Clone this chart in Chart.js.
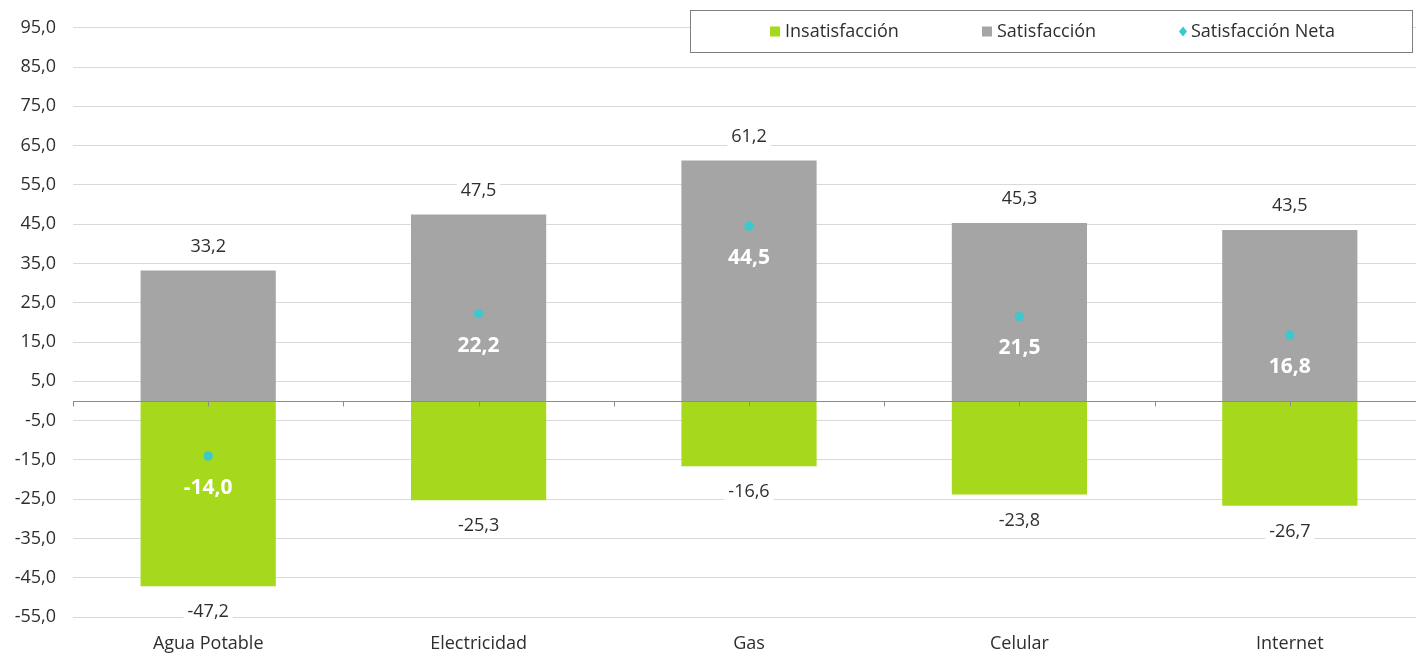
<!DOCTYPE html>
<html lang="es">
<head>
<meta charset="utf-8">
<script src="https://cdn.jsdelivr.net/npm/chart.js@4.4.1/dist/chart.umd.min.js"></script>
<style>
  html, body { margin: 0; padding: 0; background: #fff; overflow: hidden; }
</style>
</head>
<body>
<canvas id="chart" width="1430" height="656"></canvas>
<script>
// datos del gráfico
const categorias = ['Agua Potable', 'Electricidad', 'Gas', 'Celular', 'Internet'];
const insatisfaccion = [-47.2, -25.3, -16.6, -23.8, -26.7];
const satisfaccion = [33.2, 47.5, 61.2, 45.3, 43.5];
const satisfaccionNeta = [-14.0, 22.2, 44.5, 21.5, 16.8];
const ejeMin = -55;
const ejeMax = 95;
const ejePaso = 10;

const VERDE = '#A6D81C';
const GRIS = '#A5A5A5';
const CIAN = '#3CC8CC';
const TEXTO = '#2e2e2e';
const FUENTE = "'Open Sans', sans-serif";

const fmt = v => v.toFixed(1).replace('.', ',');

Chart.defaults.font.family = FUENTE;
Chart.defaults.font.size = 18;
Chart.defaults.color = TEXTO;

// etiqueta con fondo blanco
function textoConFondo(ctx, txt, x, y) {
  const w = ctx.measureText(txt).width;
  ctx.fillStyle = '#fff';
  ctx.fillRect(x - w / 2 - 4, y - 11, w + 8, 22);
  ctx.fillStyle = TEXTO;
  ctx.fillText(txt, x, y);
}

// línea del cero, marcas y etiquetas de datos
const etiquetas = {
  id: 'etiquetas',
  afterDatasetsDraw(chart) {
    const { ctx, chartArea, scales: { x, y } } = chart;
    const y0 = Math.round(y.getPixelForValue(0)) + 0.5;
    const paso = (x.getPixelForValue(1) - x.getPixelForValue(0)) / 2;
    ctx.save();
    ctx.strokeStyle = '#8c8c8c';
    ctx.lineWidth = 1;
    ctx.beginPath();
    ctx.moveTo(chartArea.left, y0);
    ctx.lineTo(chartArea.right, y0);
    for (let px = chartArea.left; px <= chartArea.right + 1; px += paso) {
      const rx = Math.round(px) + 0.5;
      ctx.moveTo(rx, y0);
      ctx.lineTo(rx, y0 + 5);
    }
    ctx.stroke();

    // las marcas de neta van encima de la línea
    chart.getDatasetMeta(2).data.forEach(p => p.draw(ctx));

    ctx.textAlign = 'center';
    ctx.textBaseline = 'middle';
    ctx.font = '18px ' + FUENTE;
    chart.getDatasetMeta(1).data.forEach((bar, i) => {
      textoConFondo(ctx, fmt(satisfaccion[i]), bar.x, bar.y - 24);
    });
    chart.getDatasetMeta(0).data.forEach((bar, i) => {
      textoConFondo(ctx, fmt(insatisfaccion[i]), bar.x, bar.y + 26);
    });
    ctx.font = 'bold 21px ' + FUENTE;
    ctx.fillStyle = '#fff';
    chart.getDatasetMeta(2).data.forEach((pt, i) => {
      ctx.fillText(fmt(satisfaccionNeta[i]), pt.x, pt.y + 32);
    });
    ctx.restore();
  },
  // leyenda con recuadro
  afterDraw(chart) {
    const { ctx } = chart;
    const bx = 690.5, by = 10.5, bw = 722, bh = 42;
    ctx.save();
    ctx.fillStyle = '#fff';
    ctx.fillRect(bx, by, bw, bh);
    ctx.strokeStyle = '#7f7f7f';
    ctx.lineWidth = 1;
    ctx.strokeRect(bx, by, bw, bh);
    const cy = by + bh / 2;
    ctx.font = '18px ' + FUENTE;
    ctx.textAlign = 'left';
    ctx.textBaseline = 'middle';
    const items = chart.data.datasets;
    const posX = [770, 982, 1179];
    items.forEach((ds, i) => {
      const x0 = posX[i];
      ctx.fillStyle = ds.backgroundColor;
      if (ds.type === 'line') {
        ctx.beginPath();
        ctx.moveTo(x0 + 4, cy - 5);
        ctx.lineTo(x0 + 8, cy);
        ctx.lineTo(x0 + 4, cy + 5);
        ctx.lineTo(x0, cy);
        ctx.closePath();
        ctx.fill();
        ctx.fillStyle = TEXTO;
        ctx.fillText(ds.label, x0 + 12, cy);
      } else {
        ctx.fillRect(x0, cy - 5, 10, 10);
        ctx.fillStyle = TEXTO;
        ctx.fillText(ds.label, x0 + 15, cy);
      }
    });
    ctx.restore();
  }
};

new Chart(document.getElementById('chart'), {
  type: 'bar',
  data: {
    labels: categorias,
    datasets: [{
      label: 'Insatisfacción',
      data: insatisfaccion,
      backgroundColor: VERDE,
      stack: 'barras',
      order: 2,
      categoryPercentage: 0.5,
      barPercentage: 1
    }, {
      label: 'Satisfacción',
      data: satisfaccion,
      backgroundColor: GRIS,
      stack: 'barras',
      order: 1,
      categoryPercentage: 0.5,
      barPercentage: 1
    }, {
      type: 'line',
      label: 'Satisfacción Neta',
      data: satisfaccionNeta,
      backgroundColor: CIAN,
      borderColor: CIAN,
      showLine: false,
      pointStyle: 'circle',
      pointRadius: 4.5,
      pointBorderWidth: 0,
      stack: 'neta',
      order: 0
    }]
  },
  options: {
    responsive: false,
    animation: false,
    events: [],
    layout: { padding: { top: 27, right: 5, left: 0, bottom: 0 } },
    plugins: {
      legend: { display: false },
      tooltip: { enabled: false }
    },
    scales: {
      x: {
        stacked: true,
        grid: { display: false, drawTicks: false },
        border: { display: false },
        ticks: { padding: 16, color: TEXTO, maxRotation: 0 },
        afterFit: s => { s.height = 39; }
      },
      y: {
        stacked: true,
        min: ejeMin,
        max: ejeMax,
        grid: { color: '#d9d9d9', drawTicks: false },
        border: { display: false },
        ticks: { stepSize: ejePaso, padding: 17, color: TEXTO, callback: v => fmt(v) },
        afterFit: s => { s.width = 73; }
      }
    }
  },
  plugins: [etiquetas]
});
</script>
</body>
</html>
